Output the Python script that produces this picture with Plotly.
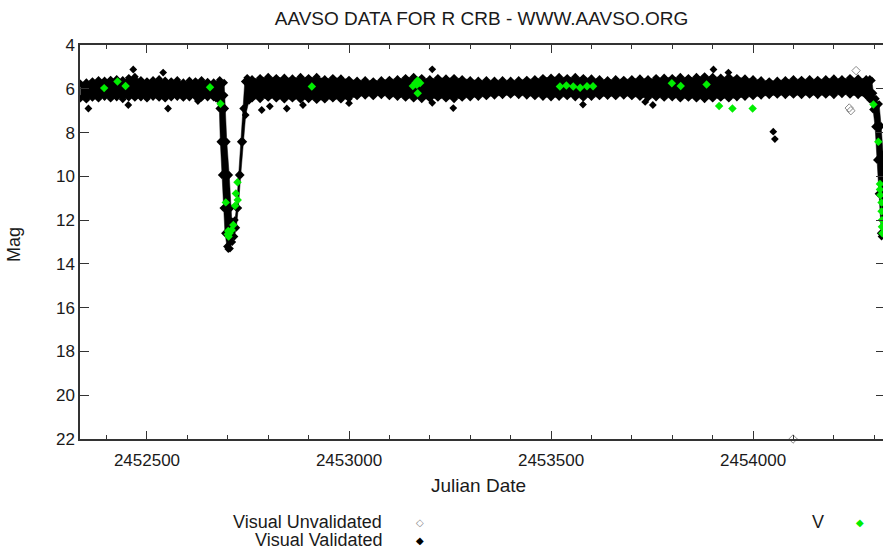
import plotly.graph_objects as go

# ---------------- data ----------------
x_tick_vals = [2452500, 2453000, 2453500, 2454000]
x_tick_text = ["2452500", "2453000", "2453500", "2454000"]
y_tick_vals = [4, 6, 8, 10, 12, 14, 16, 18, 20, 22]
y_tick_text = ["4", "6", "8", "10", "12", "14", "16", "18", "20", "22"]

# dense "Visual Validated" band: bright and faint envelopes of the observations
jd_flat_a = [2452335, 2452350, 2452365, 2452380, 2452395, 2452410, 2452425, 2452440,
             2452455, 2452470, 2452485, 2452500, 2452515, 2452530, 2452545, 2452560,
             2452575, 2452590, 2452605, 2452620, 2452635, 2452650, 2452665]
bright_flat_a = [5.75, 5.7, 5.65, 5.6, 5.62, 5.58, 5.55, 5.6, 5.5, 5.45, 5.6, 5.65,
                 5.6, 5.55, 5.62, 5.65, 5.6, 5.7, 5.62, 5.65, 5.6, 5.68, 5.7]
faint_flat_a = [6.45, 6.5, 6.42, 6.45, 6.38, 6.45, 6.4, 6.48, 6.4, 6.42, 6.4, 6.45,
                6.38, 6.42, 6.45, 6.4, 6.38, 6.42, 6.4, 6.38, 6.42, 6.4, 6.4]

jd_dip1_bright = [2452680, 2452691, 2452692, 2452693.6, 2452697.5, 2452703.5, 2452707.4,
                  2452710, 2452713.6, 2452717.5, 2452721.5, 2452727.2, 2452732.1,
                  2452738.1, 2452742, 2452748]
mag_dip1_bright = [5.6, 5.72, 6.3, 6.9, 8.42, 9.94, 11.45,
                   12.05, 12.2, 12.0, 11.45, 9.94, 8.42,
                   6.9, 5.67, 5.5]
jd_dip1_faint = [2452670.8, 2452679, 2452681.5, 2452685, 2452689, 2452693, 2452698,
                 2452701.2, 2452705.4, 2452711, 2452716.5, 2452721, 2452726, 2452732,
                 2452738.3, 2452744.3, 2452752.5]
mag_dip1_faint = [6.45, 6.9, 8.42, 9.94, 11.45, 12.6, 13.2,
                  13.32, 13.3, 13.0, 12.75, 12.35, 11.45, 9.94,
                  8.42, 7.2, 6.55]

jd_flat_b = [2452760, 2452780, 2452800, 2452820, 2452840, 2452860, 2452880, 2452900,
             2452920, 2452940, 2452960, 2452980, 2453000, 2453020, 2453040, 2453060,
             2453080, 2453100, 2453120, 2453140, 2453160, 2453180, 2453200, 2453220,
             2453240, 2453260, 2453280, 2453300, 2453320, 2453340, 2453360, 2453380,
             2453400, 2453420, 2453440, 2453460, 2453480, 2453500, 2453520, 2453540,
             2453560, 2453580, 2453600, 2453620, 2453640, 2453660, 2453680, 2453700,
             2453720, 2453740, 2453760, 2453780, 2453800, 2453820, 2453840, 2453860,
             2453880, 2453900, 2453920, 2453940, 2453960, 2453980, 2454000, 2454020,
             2454040, 2454060, 2454080, 2454100, 2454120, 2454140, 2454160, 2454180,
             2454200, 2454220, 2454240, 2454260, 2454280]
bright_flat_b = [5.55, 5.5, 5.45, 5.5, 5.48, 5.52, 5.45, 5.5, 5.45, 5.55,
                 5.5, 5.52, 5.58, 5.62, 5.6, 5.65, 5.6, 5.58, 5.55, 5.5,
                 5.45, 5.5, 5.55, 5.5, 5.52, 5.5, 5.55, 5.6, 5.62, 5.6,
                 5.62, 5.6, 5.62, 5.6, 5.58, 5.55, 5.5, 5.48, 5.45, 5.5,
                 5.45, 5.5, 5.52, 5.55, 5.6, 5.55, 5.58, 5.55, 5.52, 5.55,
                 5.5, 5.48, 5.5, 5.45, 5.5, 5.45, 5.42, 5.45, 5.48, 5.45,
                 5.5, 5.52, 5.55, 5.6, 5.65, 5.62, 5.6, 5.55, 5.58, 5.55,
                 5.58, 5.55, 5.52, 5.55, 5.5, 5.52, 5.55]
faint_flat_b = [6.45, 6.48, 6.42, 6.45, 6.5, 6.45, 6.5, 6.48, 6.52, 6.5,
                6.45, 6.5, 6.45, 6.35, 6.32, 6.35, 6.3, 6.35, 6.38, 6.42,
                6.45, 6.48, 6.45, 6.42, 6.45, 6.48, 6.42, 6.4, 6.38, 6.35,
                6.32, 6.3, 6.28, 6.3, 6.32, 6.35, 6.38, 6.4, 6.38, 6.35,
                6.4, 6.42, 6.38, 6.35, 6.33, 6.35, 6.32, 6.35, 6.38, 6.42,
                6.4, 6.42, 6.4, 6.45, 6.42, 6.45, 6.48, 6.45, 6.42, 6.45,
                6.4, 6.38, 6.35, 6.32, 6.3, 6.28, 6.3, 6.28, 6.3, 6.28,
                6.3, 6.28, 6.3, 6.25, 6.28, 6.3, 6.32]

jd_dip2_bright = [2454289, 2454294, 2454298, 2454304, 2454312, 2454317, 2454322, 2454330]
mag_dip2_bright = [5.55, 5.62, 6.2, 6.45, 6.7, 7.7, 9.0, 10.5]
jd_dip2_faint = [2454284, 2454289, 2454297, 2454302, 2454306.5, 2454310.5, 2454316, 2454318, 2454330]
mag_dip2_faint = [6.35, 6.5, 6.95, 7.73, 9.25, 10.8, 12.6, 12.75, 12.75]

# isolated Visual Validated observations
jd_validated = [2452355, 2452453.7, 2452466, 2452540, 2452552, 2452626, 2452784, 2452804,
                2452846, 2452886, 2453000, 2453206, 2453206, 2453258, 2453579, 2453733,
                2453752, 2453902, 2453939, 2454050, 2454054]
mag_validated = [6.9, 6.74, 5.12, 5.26, 6.9, 6.56, 6.97, 6.8,
                 6.9, 6.74, 6.66, 5.11, 6.64, 6.88, 6.72, 6.6,
                 6.74, 5.12, 5.26, 7.96, 8.3]

# Visual Unvalidated
jd_unvalidated = [2454099, 2454238, 2454242, 2454255]
mag_unvalidated = [22.0, 6.88, 7.0, 5.17]

# V band
jd_v = [2452394, 2452427, 2452447, 2452656, 2452682, 2452695, 2452701, 2452700, 2452702,
        2452704, 2452709.6, 2452713.6, 2452718, 2452720, 2452724, 2452724.5, 2452908,
        2453158, 2453165, 2453170, 2453176, 2453168, 2453170, 2453522, 2453538, 2453555,
        2453572, 2453589, 2453604, 2453799, 2453821, 2453885, 2453916, 2453949, 2453999,
        2454298, 2454310, 2454314, 2454314, 2454315, 2454318, 2454318, 2454319, 2454319,
        2454320]
mag_v = [5.97, 5.67, 5.87, 5.93, 6.68, 11.19, 12.5, 12.65, 12.75,
         12.6, 12.45, 12.22, 11.34, 10.78, 10.27, 11.08, 5.9,
         5.87, 5.72, 5.62, 5.74, 5.82, 6.2, 5.9, 5.85, 5.9,
         5.95, 5.88, 5.88, 5.75, 5.87, 5.8, 6.79, 6.9, 6.9,
         6.72, 8.42, 10.35, 10.6, 10.85, 11.2, 11.6, 12.0, 12.3,
         12.6]

jd_bright = jd_flat_a + jd_dip1_bright + jd_flat_b + jd_dip2_bright
mag_bright = bright_flat_a + mag_dip1_bright + bright_flat_b + mag_dip2_bright
jd_faint = jd_flat_a + jd_dip1_faint + jd_flat_b + jd_dip2_faint
mag_faint = faint_flat_a + mag_dip1_faint + faint_flat_b + mag_dip2_faint

# ---------------- figure ----------------
FONT = "Liberation Sans, Arial, sans-serif"
AX = "#333333"
TXT = "#1a1a1a"
MS = 6

fig = go.Figure()
fig.add_trace(go.Scatter(x=jd_faint, y=mag_faint, mode="lines+markers",
                         marker=dict(symbol="diamond", size=MS, color="black"),
                         line=dict(width=0.5, color="black"),
                         showlegend=False, hoverinfo="skip"))
fig.add_trace(go.Scatter(x=jd_bright, y=mag_bright, mode="lines+markers",
                         marker=dict(symbol="diamond", size=MS, color="black"),
                         line=dict(width=0.5, color="black"),
                         fill="tonexty", fillcolor="black",
                         showlegend=False, hoverinfo="skip"))
fig.add_trace(go.Scatter(x=jd_validated, y=mag_validated, mode="markers",
                         marker=dict(symbol="diamond", size=MS, color="black"),
                         showlegend=False))
fig.add_trace(go.Scatter(x=jd_unvalidated, y=mag_unvalidated, mode="markers",
                         marker=dict(symbol="diamond-open", size=6.5, color="#8a8a8a",
                                     line=dict(width=1, color="#8a8a8a")),
                         yaxis="y2", showlegend=False, cliponaxis=False))
fig.add_trace(go.Scatter(x=jd_v, y=mag_v, mode="markers",
                         marker=dict(symbol="diamond", size=6.5, color="#00ee00"),
                         showlegend=False))

fig.update_layout(
    width=883, height=549,
    margin=dict(l=80, r=0, t=45, b=110),
    paper_bgcolor="white", plot_bgcolor="white",
    font=dict(family=FONT, size=17, color=TXT),
    title=dict(text="AAVSO DATA FOR R CRB - WWW.AAVSO.ORG", x=0.5, xref="paper",
               y=1 - 18 / 549, yref="container", yanchor="middle", xanchor="center",
               font=dict(family=FONT, size=19, color=TXT)),
    xaxis=dict(range=[2452334.2, 2454321.6], tickmode="array", tickvals=x_tick_vals,
               ticktext=x_tick_text, ticks="inside", ticklen=8, tickwidth=1.2,
               tickcolor=AX, showline=True, linecolor=AX, linewidth=1.5,
               mirror="ticks", showgrid=False, zeroline=False,
               ticklabelstandoff=5, tickfont=dict(family=FONT, size=17, color=TXT),
               minor=dict(ticks="inside", ticklen=4, tickwidth=1, tickcolor=AX,
                          dtick=100, tick0=2452300, showgrid=False)),
    yaxis=dict(range=[22, 4], tickmode="array", tickvals=y_tick_vals,
               ticktext=y_tick_text, ticks="inside", ticklen=9, tickwidth=1.2,
               tickcolor=AX, showline=True, linecolor=AX, linewidth=1.5,
               mirror=False, showgrid=False, zeroline=False,
               tickfont=dict(family=FONT, size=17, color=TXT)),
    yaxis2=dict(range=[22, 4], overlaying="y", side="right", tickmode="array",
                tickvals=y_tick_vals, ticks="inside", ticklen=7, tickwidth=1.2,
                tickcolor=AX, showline=False, showticklabels=False,
                showgrid=False, zeroline=False),
)

def ann(text, px, py, xanchor="center", color=TXT, size=18, angle=0):
    fig.add_annotation(text=text, xref="paper", yref="paper",
                       x=(px - 80) / 803, y=(439 - py) / 394,
                       xanchor=xanchor, yanchor="middle", showarrow=False,
                       textangle=angle, font=dict(family=FONT, size=size, color=color))

ann("Julian Date", 478, 485, size=19)
ann("Mag", 14, 245, angle=-90)
ann("Visual Unvalidated", 384, 522, xanchor="right")
ann("Visual Validated", 384, 540, xanchor="right")
ann("◇", 420, 522, color="#8a8a8a", size=10)
ann("◆", 420, 540, color="black", size=10)
ann("V", 818, 522)
ann("◆", 860, 522, color="#00ee00", size=10)

fig.write_html("out.html", config={"displayModeBar": False},
               post_script="document.body.style.margin='0px';")
